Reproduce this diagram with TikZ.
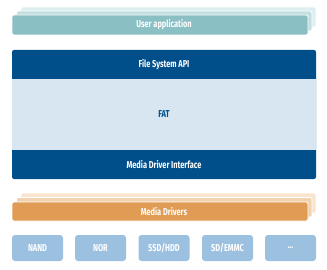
\documentclass[tikz,border=0pt]{standalone}
\usepackage{fontspec}
\newfontfamily\condf[FakeStretch=0.74]{Fira Sans Bold}
\definecolor{dblue}{HTML}{004E8A}
\definecolor{lblue}{HTML}{D8E6F1}
\definecolor{teal1}{HTML}{8ABFC4}
\definecolor{teal2}{HTML}{C3DFE2}
\definecolor{teal3}{HTML}{DDEEF0}
\definecolor{orng1}{HTML}{E09B55}
\definecolor{orng2}{HTML}{F2D2AE}
\definecolor{orng3}{HTML}{F9E5CF}
\definecolor{mblue}{HTML}{9CC0E0}
\begin{document}
\begin{tikzpicture}[x=1pt,y=-1pt,
  lbl/.style={text=white,font=\condf\fontsize{10}{11}\selectfont},
  layer/.style={draw=white,line width=0.8pt,rounded corners=2pt},
  devbox/.style={fill=mblue,rounded corners=3pt,minimum width=51pt,minimum height=26pt,inner sep=0pt,text=white,font=\condf\fontsize{10}{11}\selectfont}]
\useasboundingbox (0,0) rectangle (327,270);
% user application stack
\fill[layer,fill=teal3] (21,7) rectangle (316,27);
\fill[layer,fill=teal2] (16.5,11) rectangle (312,31);
\fill[layer,fill=teal1] (12,15) rectangle (308,35);
\node[lbl] (ua) at (164,25) {User application};
% main stack
\fill[dblue,rounded corners=2pt] (12,50) rectangle (316,179);
\fill[lblue] (12,79) rectangle (316,150);
\node[lbl] (api) at (164,64.5) {File System API};
\node[lbl,text=dblue] (fat) at (164,114.5) {FAT};
\node[lbl] (mdi) at (164,164.5) {Media Driver Interface};
% media drivers stack
\fill[layer,fill=orng3] (21,193) rectangle (316,213);
\fill[layer,fill=orng2] (16.5,197.5) rectangle (312,217);
\fill[layer,fill=orng1] (12,202) rectangle (308,221);
\node[lbl] (md) at (164,211.5) {Media Drivers};
% devices
\node[devbox] (nand) at (37.5,248) {NAND};
\node[devbox] (nor) at (100.5,248) {NOR};
\node[devbox] (ssd) at (164,248) {SSD/HDD};
\node[devbox] (sd) at (227.5,248) {SD/EMMC};
\node[devbox] (etc) at (290.5,248) {...};
\end{tikzpicture}
\end{document}
